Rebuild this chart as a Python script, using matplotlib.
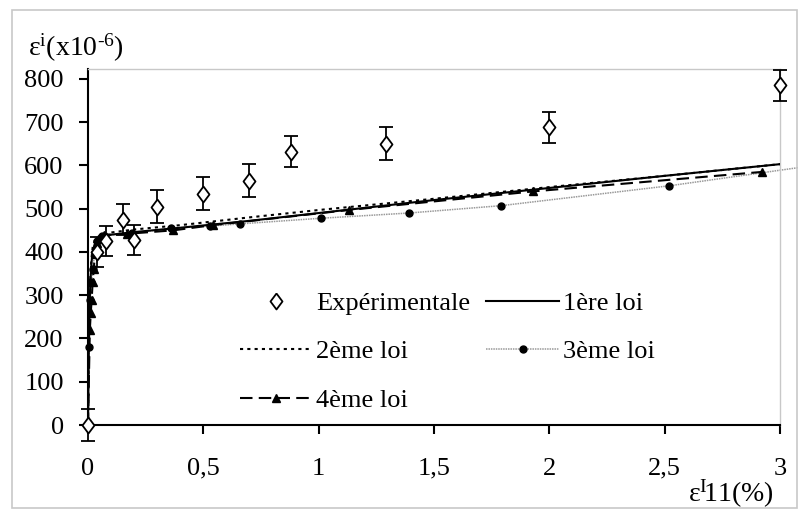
import numpy as np
import matplotlib.pyplot as plt
from matplotlib.patches import Rectangle

plt.rcParams['font.family'] = ['Liberation Serif', 'DejaVu Serif']
plt.rcParams['mathtext.fontset'] = 'custom'
plt.rcParams['mathtext.rm'] = 'Liberation Serif'
plt.rcParams['mathtext.it'] = 'Liberation Serif'

# experimental points with error bars
exp_x = [0, 0.04, 0.08, 0.15, 0.2, 0.3, 0.5, 0.7, 0.88, 1.29, 2.0, 3.0]
exp_y = [0, 400, 425, 475, 428, 505, 535, 565, 632, 650, 688, 785]
exp_err = [38, 35, 35, 35, 35, 38, 38, 38, 35, 38, 35, 35]

# 1ere loi (solid)
l1_x = [0, 0.003, 0.006, 0.01, 0.015, 0.02, 0.03, 0.05, 0.1, 0.2, 0.4, 0.7, 1.0, 1.5, 2.0, 2.5, 3.0]
l1_y = [0, 150, 260, 330, 375, 400, 420, 432, 440, 446, 456, 472, 490, 520, 548, 576, 603]

# 2eme loi (dotted)
l2_x = [0, 0.003, 0.006, 0.01, 0.015, 0.02, 0.03, 0.05, 0.1, 0.2, 0.4, 0.7, 1.0, 1.5, 2.0, 2.5, 3.0]
l2_y = [0, 160, 270, 340, 385, 410, 428, 438, 445, 452, 462, 480, 497, 523, 550, 576, 603]

# 3eme loi (grey dotted, dots)
l3_x = [0, 0.005, 0.01, 0.015, 0.02, 0.03, 0.04, 0.06, 0.19, 0.36, 0.53, 0.66, 1.01, 1.39, 1.79, 2.52, 3.08]
l3_y = [0, 180, 290, 330, 360, 400, 425, 438, 443, 455, 460, 465, 478, 490, 507, 553, 595]

# 4eme loi (dashed, triangles)
l4_x = [0, 0.008, 0.012, 0.016, 0.02, 0.025, 0.03, 0.04, 0.05, 0.07, 0.17, 0.37, 0.54, 1.13, 1.93, 2.92]
l4_y = [0, 220, 260, 290, 330, 360, 395, 420, 432, 440, 442, 450, 462, 497, 540, 585]

x_ticks = [0, 0.5, 1, 1.5, 2, 2.5, 3]
x_labels = ['0', '0,5', '1', '1,5', '2', '2,5', '3']
y_ticks = [0, 100, 200, 300, 400, 500, 600, 700, 800]

fig = plt.figure(figsize=(8.04, 5.13), dpi=100)
ax = fig.add_axes([88 / 804, 88 / 513, 692 / 804, 356 / 513])

diamond = [(0, 1), (0.75, 0), (0, -1), (-0.75, 0), (0, 1)]

h3, = ax.plot(l3_x, l3_y, color='#999999', ls=(0, (1, 0.6)), lw=1.1,
              marker='o', ms=5, mfc='black', mec='black', markevery=slice(0, -1),
              clip_on=False, label='3ème loi', zorder=2)
h4, = ax.plot(l4_x, l4_y, color='black', ls=(0, (6, 3)), lw=1.5,
              marker='^', ms=6, mfc='black', mec='black', label='4ème loi', zorder=3)
h2, = ax.plot(l2_x, l2_y, color='black', ls=(0, (1.5, 2)), lw=1.5, label='2ème loi', zorder=3)
h1, = ax.plot(l1_x, l1_y, color='black', ls='-', lw=1.5, label='1ère loi', zorder=3)

eb = ax.errorbar(exp_x, exp_y, yerr=exp_err, fmt='none', ecolor='black',
                 elinewidth=1.3, capsize=5, capthick=1.3, zorder=4, clip_on=False)
for c in eb.lines[1] + eb.lines[2]:
    c.set_clip_on(False)
h0, = ax.plot(exp_x, exp_y, ls='none', marker=diamond, ms=11.5, mfc='white',
              mec='black', mew=1.3, label='Expérimentale', zorder=5, clip_on=False)

ax.set_xlim(0, 3)
ax.set_ylim(0, 823)
ax.set_xticks(x_ticks)
ax.set_xticklabels(x_labels)
ax.set_yticks(y_ticks)

for s in ['top', 'right']:
    ax.spines[s].set_color('#c8c8c8')
    ax.spines[s].set_linewidth(1)
for s in ['left', 'bottom']:
    ax.spines[s].set_linewidth(1.5)
ax.tick_params(axis='both', direction='out', length=6.5, width=1.5, labelsize=19)
ax.tick_params(axis='x', pad=17)
ax.tick_params(axis='y', pad=11)

leg = ax.legend([h0, h2, h4, h1, h3],
                ['Expérimentale', '2ème loi', '4ème loi', '1ère loi', '3ème loi'],
                ncol=2, frameon=False, fontsize=19, loc='lower left',
                bbox_to_anchor=(0.185, -0.03), handlelength=2.75, handletextpad=0.15,
                columnspacing=0.6, labelspacing=0.95)

fig.text(28 / 804, 1 - 56 / 513, r'ε$^{\mathrm{i}}$(x10$^{\text{-6}}$)', fontsize=20)
fig.text(688 / 804, 1 - 502 / 513, r'ε$^{\mathrm{I}}\!$11(%)', fontsize=20)

fig.patches.append(Rectangle((12 / 804, 5 / 513), 785 / 804, 498 / 513,
                             transform=fig.transFigure, fill=False,
                             edgecolor='#c8c8c8', lw=1.2))

fig.savefig('out.png', dpi=100)
